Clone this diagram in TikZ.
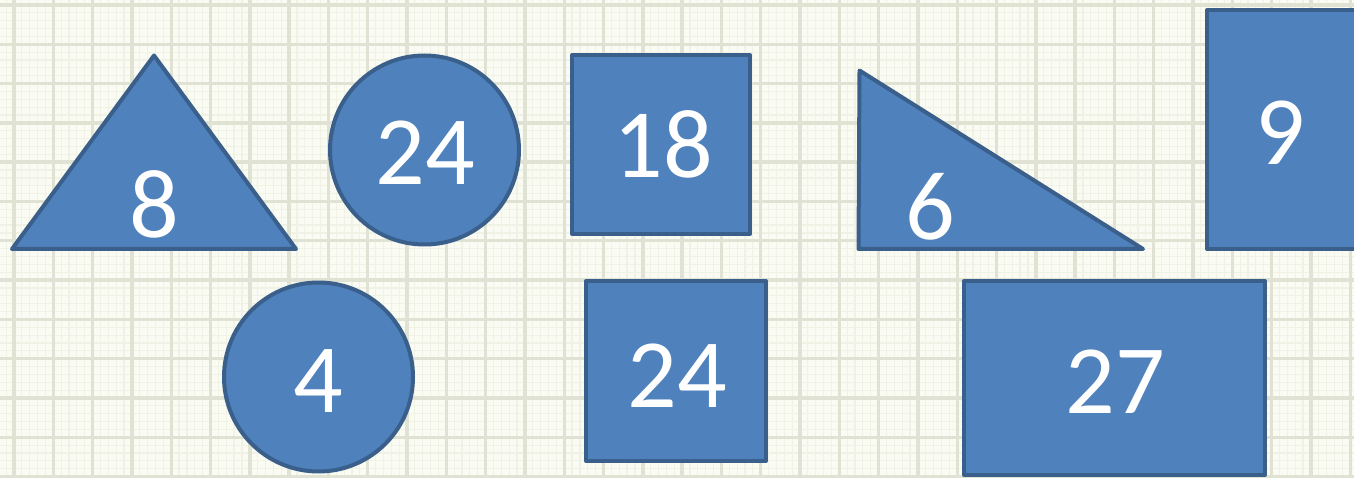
\documentclass[tikz,border=0pt]{standalone}
\usepackage{fontspec}
\setmainfont{Carlito}
\definecolor{shapefill}{HTML}{4F81BD}
\definecolor{shapeline}{HTML}{3A5F8B}
\definecolor{paper}{HTML}{FAFBF2}
\definecolor{gridmajor}{HTML}{E0E2D4}
\definecolor{gridminor}{HTML}{F0F2E6}
\begin{document}
\begin{tikzpicture}[x=1pt,y=-1pt,
  shapebox/.style={fill=shapefill,draw=shapeline,line width=4pt,line join=round},
  num/.style={text=white,font=\fontsize{98}{98}\selectfont,anchor=base,inner sep=0pt},
  minorline/.style={draw=gridminor,line width=1.2pt},
  majorline/.style={draw=gridmajor,line width=3.4pt}]
\useasboundingbox (0,0) rectangle (1354,478);
\clip (0,0) rectangle (1354,478);
\fill[paper] (0,0) rectangle (1354,478);
% minor grid
\foreach \i in {-5,...,175} {
  \draw[minorline] ({14+7.86*\i},0) -- ({14+7.86*\i},478);
}
\foreach \i in {-5,...,65} {
  \draw[minorline] (0,{5+7.86*\i}) -- (1354,{5+7.86*\i});
}
% major grid
\foreach \i in {0,...,35} {
  \draw[majorline] ({14+39.3*\i},0) -- ({14+39.3*\i},478);
}
\foreach \i in {0,...,12} {
  \draw[majorline] (0,{5+39.3*\i}) -- (1354,{5+39.3*\i});
}
% shapes
\draw[shapebox] (154,55.5) -- (296,249) -- (12,249) -- cycle;
\draw[shapebox] (424.5,150) circle[radius=94.5];
\draw[shapebox] (572,55) rectangle (750,234);
\draw[shapebox] (859.5,70.5) -- (1143,249) -- (858.5,249) -- cycle;
\draw[shapebox] (1207,10) rectangle (1362,249);
\draw[shapebox] (318.5,377) circle[radius=94.5];
\draw[shapebox] (586,281) rectangle (766,461);
\draw[shapebox] (964,281) rectangle (1265,475);
% labels
\node[num] (n8) at (154,238) {8};
\node[num] (n24a) at (425,185) {24};
\node[num] (n18) at (663,178) {18};
\node[num] (n6) at (930,240) {6};
\node[num] (n9) at (1280,165) {9};
\node[num] (n4) at (318,412) {4};
\node[num] (n24b) at (677,407) {24};
\node[num] (n27) at (1115,413) {27};
\end{tikzpicture}
\end{document}
